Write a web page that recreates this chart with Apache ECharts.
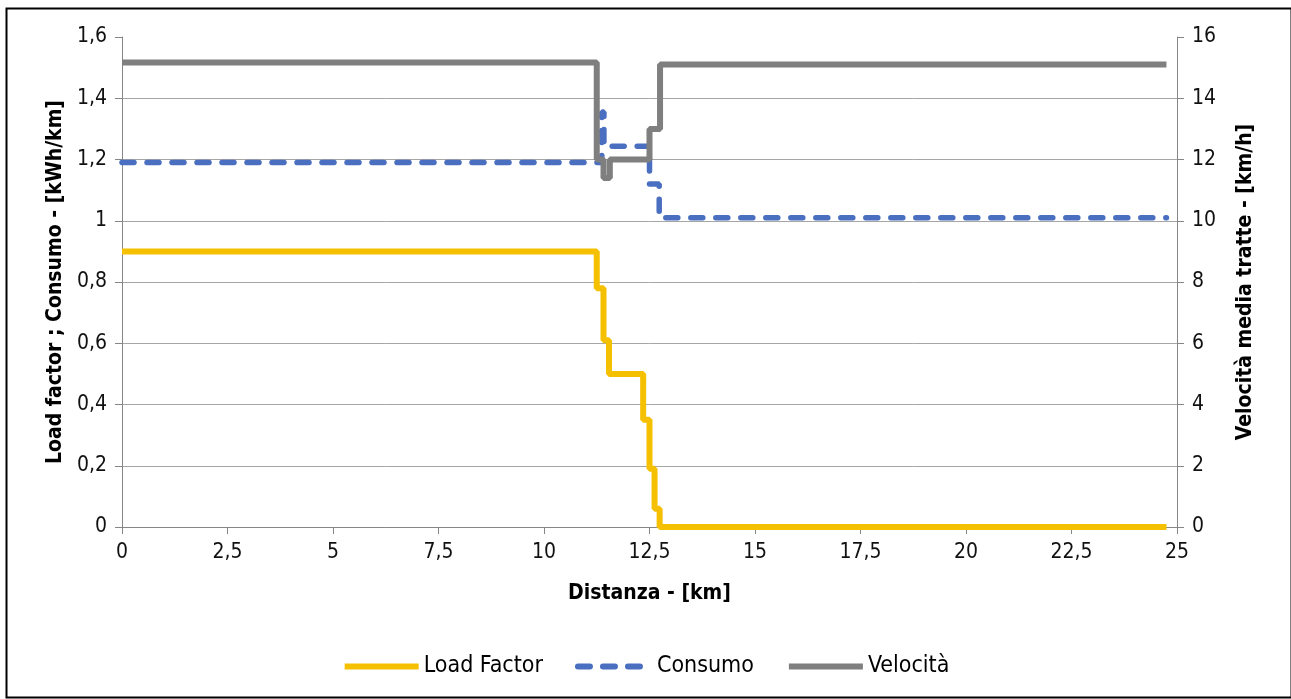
<!DOCTYPE html>
<html>
<head>
<meta charset="utf-8">
<script src="https://cdn.jsdelivr.net/npm/echarts@6/dist/echarts.min.js"></script>
<style>
html,body{margin:0;padding:0;background:#fff;}
#chart{width:1291px;height:699px;}
</style>
</head>
<body>
<div id="chart"></div>
<script>
// Data (step lines: each point starts a new level)
const loadX = [0, 11.25, 11.41, 11.54, 12.35, 12.5, 12.62, 12.74, 24.75];
const loadY = [0.9, 0.78, 0.61, 0.5, 0.35, 0.19, 0.06, 0, 0];

const consX = [0, 11.37, 11.42, 12.5, 12.73, 24.75];
const consY = [1.19, 1.355, 1.243, 1.12, 1.01, 1.01];

const velX = [0, 11.25, 11.41, 11.56, 12.5, 12.75, 24.75];
const velY = [15.17, 12.0, 11.4, 12.0, 13.0, 15.1, 15.1];

const seriesNames = ['Load Factor', 'Consumo', 'Velocità'];
const xTitle = 'Distanza - [km]';
const yLeftTitle = 'Load factor ; Consumo - [kWh/km]';
const yRightTitle = 'Velocità media tratte - [km/h]';

const FONT = "'Liberation Sans Narrow', 'Arial Narrow', 'DejaVu Sans Condensed', sans-serif";
const fmt = v => String(Math.round(v * 10) / 10).replace('.', ',');
const zip = (xs, ys) => xs.map((x, i) => [x, ys[i]]);

const chart = echarts.init(document.getElementById('chart'), null, {renderer: 'canvas'});
const axisColor = '#868686';
const labelStyle = {color: '#111', fontFamily: FONT, fontSize: 21};
const titleStyle = {color: '#000', fontFamily: FONT, fontSize: 21, fontWeight: 'bold'};

chart.setOption({
  animation: false,
  backgroundColor: '#fff',
  graphic: [{
    type: 'rect', left: 4, top: 6,
    shape: {width: 1285, height: 689},
    style: {fill: 'none', stroke: '#000', lineWidth: 2}, silent: true, z: -1
  }],
  grid: {left: 122, right: 114, top: 37, bottom: 172},
  legend: {
    data: seriesNames,
    bottom: 16,
    left: 'center',
    itemWidth: 74,
    itemHeight: 14,
    itemGap: 32,
    lineStyle: {width: 6},
    itemStyle: {opacity: 0},
    textStyle: {color: '#000', fontFamily: FONT, fontSize: 23}
  },
  xAxis: {
    type: 'value', min: 0, max: 25, interval: 2.5,
    name: xTitle, nameLocation: 'middle', nameGap: 56, nameTextStyle: titleStyle,
    axisLine: {show: true, lineStyle: {color: axisColor, width: 1}},
    axisTick: {show: true, length: 7, lineStyle: {color: axisColor}},
    axisLabel: Object.assign({formatter: fmt, margin: 15}, labelStyle),
    splitLine: {show: false}
  },
  yAxis: [{
    type: 'value', min: 0, max: 1.6, interval: 0.2, position: 'left',
    name: yLeftTitle, nameLocation: 'middle', nameRotate: 90, nameGap: 56, nameTextStyle: titleStyle,
    axisLine: {show: true, lineStyle: {color: axisColor, width: 1}},
    axisTick: {show: true, length: 7, lineStyle: {color: axisColor}},
    axisLabel: Object.assign({formatter: fmt, margin: 15}, labelStyle),
    splitLine: {show: true, showMaxLine: false, lineStyle: {color: '#a6a6a6', width: 1}}
  }, {
    type: 'value', min: 0, max: 16, interval: 2, position: 'right',
    name: yRightTitle, nameLocation: 'middle', nameRotate: 90, nameGap: 58, nameTextStyle: titleStyle,
    axisLine: {show: true, lineStyle: {color: axisColor, width: 1}},
    axisTick: {show: true, length: 7, lineStyle: {color: axisColor}},
    axisLabel: Object.assign({formatter: fmt, margin: 15}, labelStyle),
    splitLine: {show: false}
  }],
  series: [{
    name: seriesNames[0], type: 'line', step: 'end', yAxisIndex: 0,
    data: zip(loadX, loadY), symbol: 'none',
    lineStyle: {color: '#f5c000', width: 6},
    itemStyle: {color: '#f5c000'}
  }, {
    name: seriesNames[1], type: 'line', step: 'end', yAxisIndex: 0,
    data: zip(consX, consY), symbol: 'none',
    lineStyle: {color: '#4a6ec0', width: 5.5, type: [12, 13], cap: 'round'},
    itemStyle: {color: '#4a6ec0'}
  }, {
    name: seriesNames[2], type: 'line', step: 'end', yAxisIndex: 1,
    data: zip(velX, velY), symbol: 'none',
    lineStyle: {color: '#7f7f7f', width: 6},
    itemStyle: {color: '#7f7f7f'}
  }]
});
</script>
</body>
</html>
